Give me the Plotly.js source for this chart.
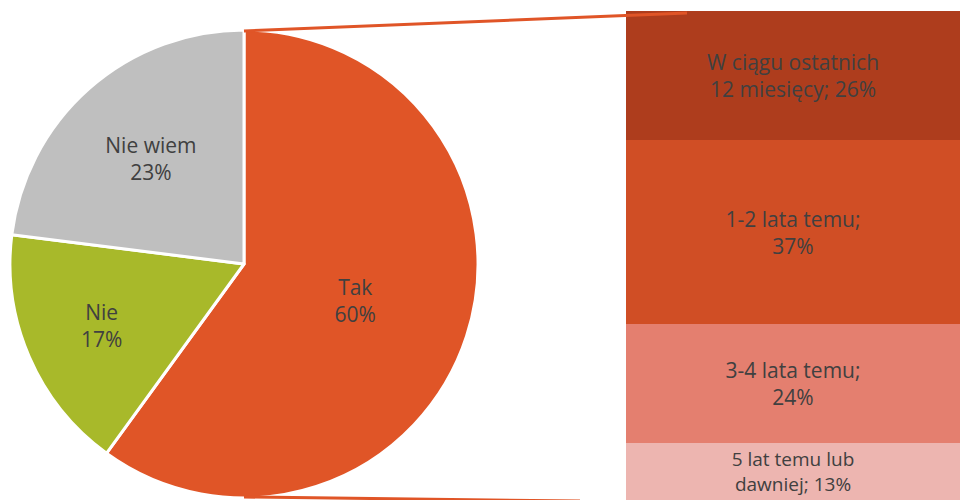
<!DOCTYPE html>
<html>
<head>
<meta charset="utf-8">
<script src="https://cdn.plot.ly/plotly-3.0.1.min.js"></script>
<style>html,body{margin:0;padding:0;background:#fff;}#chart{width:960px;height:500px;}</style>
</head>
<body>
<div id="chart"></div>
<script>
// Pie data
const pieLabels = ['Tak', 'Nie', 'Nie wiem'];
const pieValues = [60, 17, 23];
const pieColors = ['#E05527', '#A8B92A', '#BFBFBF'];

// Bar-of-pie breakdown (top to bottom)
const barLabels = ['W ciągu ostatnich 12 miesięcy', '1-2 lata temu', '3-4 lata temu', '5 lat temu lub dawniej'];
const barTexts = ['W ciągu ostatnich<br>12 miesięcy; 26%', '1-2 lata temu;<br>37%', '3-4 lata temu;<br>24%', '5 lat temu lub<br>dawniej; 13%'];
const barValues = [26, 37, 24, 13];
const barColors = ['#AE3D1D', '#D04E25', '#E47F6F', '#EDB5B0'];

const font = {family: 'Open Sans, sans-serif', size: 21, color: '#404040'};
const smallFont = {family: 'Open Sans, sans-serif', size: 19, color: '#404040'};

const traces = [];
traces.push({
  type: 'pie',
  labels: pieLabels,
  values: pieValues,
  sort: false,
  direction: 'clockwise',
  rotation: 0,
  marker: {colors: pieColors, line: {color: '#ffffff', width: 3}},
  texttemplate: '%{label}<br>%{percent:.0%}',
  textposition: 'inside',
  insidetextorientation: 'horizontal',
  insidetextfont: font,
  hoverinfo: 'none',
  domain: {x: [10/960, 478/960], y: [2/500, 470/500]},
  showlegend: false
});

// stacked bar: bottom segment first
const last = barValues.length - 1;
for (let i = last; i >= 0; i--) {
  traces.push({
    type: 'bar',
    x: [0],
    y: [barValues[i]],
    name: barLabels[i],
    text: [barTexts[i]],
    texttemplate: '%{text}',
    textposition: 'inside',
    insidetextanchor: i === last ? 'end' : 'middle',
    textangle: 0,
    insidetextfont: i === last ? smallFont : font,
    marker: {color: barColors[i], line: {width: 0}},
    width: 1,
    hoverinfo: 'none',
    showlegend: false,
    cliponaxis: true
  });
}

const pxPer = 4.97;
const topPx = 11;
const layout = {
  width: 960, height: 500,
  margin: {l: 0, r: 0, t: 0, b: 0},
  paper_bgcolor: '#ffffff', plot_bgcolor: 'rgba(0,0,0,0)',
  barmode: 'stack', bargap: 0,
  showlegend: false,
  xaxis: {domain: [626/960, 1], range: [-0.5, 0.5], visible: false, fixedrange: true},
  yaxis: {range: [100 - (500 - topPx)/pxPer, 100 + topPx/pxPer], visible: false, fixedrange: true},
  shapes: [
    {type: 'line', xref: 'paper', yref: 'paper', x0: 244/960, y0: 1 - 31/500, x1: 687/960, y1: 1 - 13/500,
     line: {color: '#E05527', width: 3}, layer: 'above'},
    {type: 'line', xref: 'paper', yref: 'paper', x0: 244/960, y0: 1 - 497/500, x1: 580/960, y1: 1 - 501/500,
     line: {color: '#E05527', width: 3}, layer: 'above'}
  ]
};

Plotly.newPlot('chart', traces, layout, {staticPlot: true, displayModeBar: false});
</script>
</body>
</html>
